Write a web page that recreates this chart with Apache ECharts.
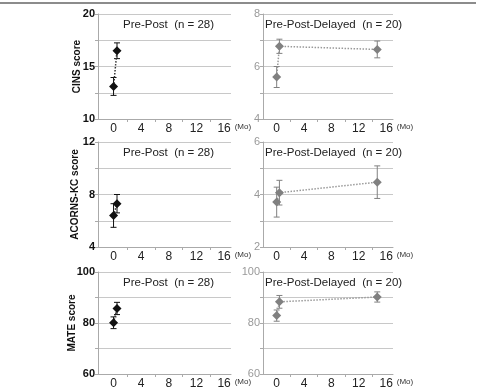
<!DOCTYPE html>
<html>
<head>
<meta charset="utf-8">
<script src="https://cdn.jsdelivr.net/npm/echarts@6/dist/echarts.min.js"></script>
<style>
html, body { margin: 0; padding: 0; background: #fff; }
#chart { width: 478px; height: 390px; }
</style>
</head>
<body>
<div id="chart"></div>
<script>
// months since baseline
var ppMonths = [0, 0.5];
var ppdMonths = [0, 0.4, 14.7];

// CINS
var cinsPP = [13.1, 16.5];
var cinsPPErr = [0.85, 0.75];
var cinsPPD = [5.6, 6.77, 6.65];
var cinsPPDErr = [0.4, 0.27, 0.32];

// ACORNS-KC
var acornsPP = [6.4, 7.3];
var acornsPPErr = [0.9, 0.7];
var acornsPPD = [3.71, 4.07, 4.47];
var acornsPPDErr = [0.57, 0.47, 0.62];

// MATE
var matePP = [80.1, 85.7];
var matePPErr = [2.3, 2.4];
var matePPD = [82.9, 88.3, 90.2];
var matePPDErr = [2.2, 2.5, 2.0];

var xLabels = [0, 4, 8, 12, 16];
var xTicks = [2, 6, 10, 14];

var rowNames = ['CINS score', 'ACORNS-KC score', 'MATE score'];
var rowMin = [10, 4, 60];
var rowMax = [20, 12, 100];
var rowStep = [2.5, 2, 10];
var rowLabels = [[10, 15, 20], [4, 8, 12], [60, 80, 100]];
var rightMin = [4, 2, 60];
var rightMax = [8, 6, 100];
var rightStep = [1, 1, 10];
var rightLabels = [[4, 6, 8], [2, 4, 6], [60, 80, 100]];
var nameGaps = [16, 18, 21];

var titleLeft = 'Pre-Post  (n = 28)';
var titleRight = 'Pre-Post-Delayed  (n = 20)';

var font = 'Liberation Sans, Arial, sans-serif';
var rowTop = [14, 142, 272];
var rowHeight = 105;

var ppData = [[cinsPP, cinsPPErr], [acornsPP, acornsPPErr], [matePP, matePPErr]];
var ppdData = [[cinsPPD, cinsPPDErr], [acornsPPD, acornsPPDErr], [matePPD, matePPDErr]];

function errorBars(color) {
	return function (params, api) {
		var x = api.value(0), y = api.value(1), e = api.value(2);
		var top = api.coord([x, y + e]);
		var bot = api.coord([x, y - e]);
		var st = { stroke: color, lineWidth: 1 };
		return {
			type: 'group',
			children: [
				{ type: 'line', shape: { x1: top[0], y1: top[1], x2: bot[0], y2: bot[1] }, style: st },
				{ type: 'line', shape: { x1: top[0] - 3, y1: top[1], x2: top[0] + 3, y2: top[1] }, style: st },
				{ type: 'line', shape: { x1: bot[0] - 3, y1: bot[1], x2: bot[0] + 3, y2: bot[1] }, style: st }
			]
		};
	};
}

var grids = [], xAxes = [], yAxes = [], series = [], titles = [];

for (var r = 0; r < 3; r++) {
	for (var c = 0; c < 2; c++) {
		var idx = r * 2 + c;
		var left = c === 0;
		grids.push({
			left: left ? 98 : 263,
			width: left ? 133 : 130,
			top: rowTop[r],
			height: rowHeight
		});
		xAxes.push({
			gridIndex: idx,
			type: 'value',
			min: left ? -2.25 : -2,
			max: 17,
			name: '(Mo)',
			nameLocation: 'end',
			nameGap: -6,
			nameTextStyle: { fontSize: 8, color: '#333', fontFamily: font, verticalAlign: 'top', padding: [4, 0, 0, 0] },
			axisLine: { onZero: false, lineStyle: { color: '#aaa' } },
			axisTick: { show: true, length: 3, customValues: xTicks, lineStyle: { color: '#aaa' } },
			axisLabel: { customValues: xLabels, fontSize: 12, color: '#222', fontFamily: font, margin: 4 },
			splitLine: { show: false }
		});
		var mn = left ? rowMin[r] : rightMin[r];
		var labs = left ? rowLabels[r] : rightLabels[r];
		yAxes.push({
			gridIndex: idx,
			type: 'value',
			min: mn,
			max: left ? rowMax[r] : rightMax[r],
			interval: left ? rowStep[r] : rightStep[r],
			name: left ? rowNames[r] : '',
			nameLocation: 'middle',
			nameGap: nameGaps[r],
			nameRotate: 90,
			nameMoveOverlap: false,
			nameTextStyle: { fontSize: 10, fontWeight: 'bold', color: '#111', fontFamily: font },
			axisLine: { show: true, onZero: false, lineStyle: { color: '#aaa' } },
			axisTick: { show: true, length: 3, lineStyle: { color: '#aaa' } },
			axisLabel: {
				fontSize: 11,
				margin: 3,
				fontWeight: left ? 'bold' : 'normal',
				color: left ? '#111' : '#999',
				fontFamily: font,
				formatter: (function (l) {
					return function (v) { return l.indexOf(v) >= 0 ? String(v) : ''; };
				})(labs)
			},
			splitLine: { show: true, lineStyle: { color: '#c8c8c8' } }
		});

		var months = left ? ppMonths : ppdMonths;
		var set = left ? ppData[r] : ppdData[r];
		var color = left ? '#111' : '#808080';
		var lineColor = left ? '#333' : '#999';

		series.push({
			type: 'custom',
			xAxisIndex: idx,
			yAxisIndex: idx,
			renderItem: errorBars(color),
			data: months.map(function (m, i) { return [m, set[0][i], set[1][i]]; }),
			z: 2,
			silent: true
		});
		series.push({
			type: 'line',
			xAxisIndex: idx,
			yAxisIndex: idx,
			data: months.map(function (m, i) { return [m, set[0][i]]; }),
			symbol: 'diamond',
			symbolSize: 9,
			itemStyle: { color: color },
			lineStyle: { color: lineColor, width: 1.5, type: 'dotted' },
			z: 3,
			silent: true
		});

		titles.push({
			text: left ? titleLeft : titleRight,
			left: left ? 123 : 265,
			top: rowTop[r] + 5,
			textStyle: { fontSize: 11.5, fontWeight: 'normal', color: '#222', fontFamily: font }
		});
	}
}

var myChart = echarts.init(document.getElementById('chart'));
myChart.setOption({
	animation: false,
	title: titles.map(function (t) { t.padding = 0; return t; }),
	grid: grids,
	xAxis: xAxes,
	yAxis: yAxes,
	series: series,
	graphic: [{
		type: 'line',
		shape: { x1: 0, y1: 3, x2: 476, y2: 3 },
		style: { stroke: '#666', lineWidth: 1.5 }
	}]
});
</script>
</body>
</html>
